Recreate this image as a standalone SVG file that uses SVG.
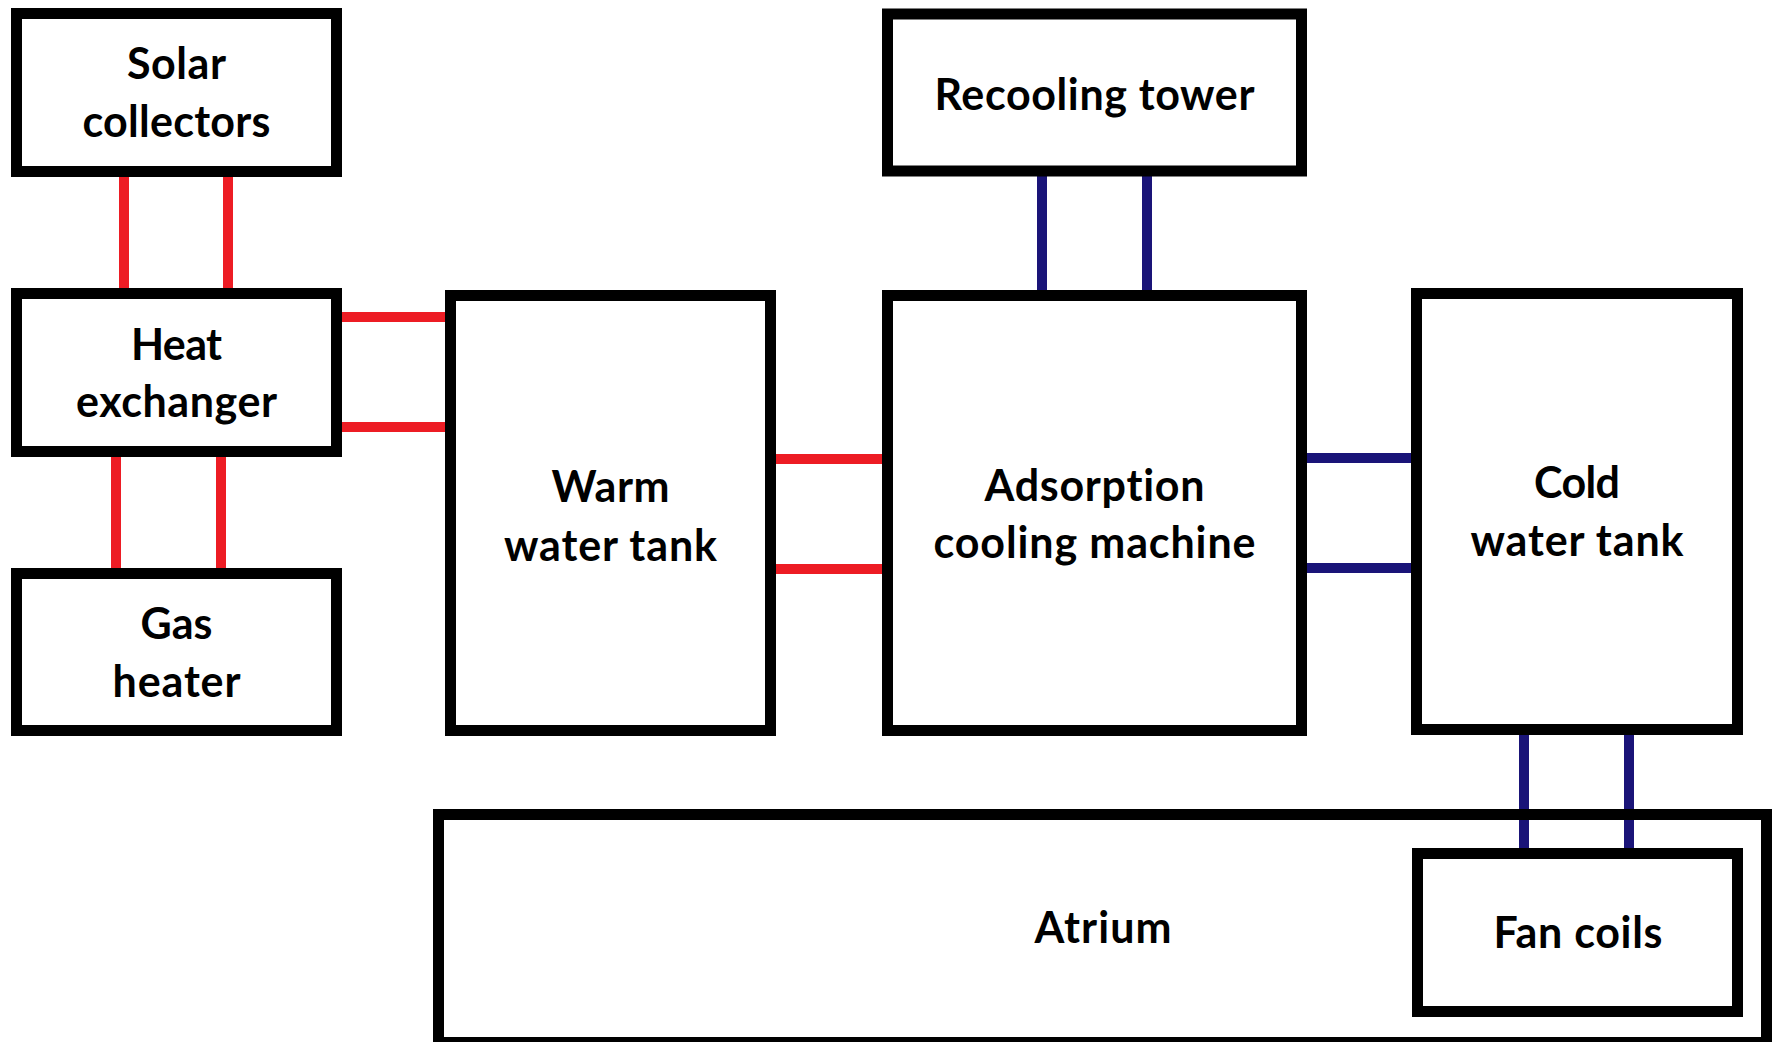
<svg xmlns="http://www.w3.org/2000/svg" width="1776" height="1042" viewBox="0 0 1776 1042">
<style>
.box{fill:#fff;stroke:#000;stroke-width:11}
.open{fill:none;stroke:#000;stroke-width:11}
.hot{stroke:#ed1c24;stroke-width:10;fill:none}
.cold{stroke:#1a1478;stroke-width:10;fill:none}
text{font-family:Lato,"Open Sans","Liberation Sans",sans-serif;font-weight:bold;font-size:43px;fill:#000;text-anchor:middle;font-variant-ligatures:none;font-feature-settings:"liga" 0,"clig" 0}
</style>
<rect x="0" y="0" width="1776" height="1042" fill="#fff"/>
<g id="connectors">
<line class="hot" x1="124" y1="170" x2="124" y2="294"/>
<line class="hot" x1="228" y1="170" x2="228" y2="294"/>
<line class="hot" x1="116" y1="450" x2="116" y2="574"/>
<line class="hot" x1="221" y1="450" x2="221" y2="574"/>
<line class="hot" x1="336" y1="317" x2="451" y2="317"/>
<line class="hot" x1="336" y1="427" x2="451" y2="427"/>
<line class="hot" x1="770" y1="459" x2="888" y2="459"/>
<line class="hot" x1="770" y1="569" x2="888" y2="569"/>
<line class="cold" x1="1042" y1="170" x2="1042" y2="296"/>
<line class="cold" x1="1147" y1="170" x2="1147" y2="296"/>
<line class="cold" x1="1301" y1="458" x2="1417" y2="458"/>
<line class="cold" x1="1301" y1="568" x2="1417" y2="568"/>
<line class="cold" x1="1524" y1="730" x2="1524" y2="854"/>
<line class="cold" x1="1629" y1="730" x2="1629" y2="854"/>
</g>
<g id="solar-collectors">
<rect class="box" x="16.5" y="13.5" width="320" height="158"/>
<text x="176.5" y="79" textLength="99">Solar</text>
<text x="176.5" y="137" textLength="188">collectors</text>
</g>
<g id="heat-exchanger">
<rect class="box" x="16.5" y="293.5" width="320" height="158"/>
<text x="176.5" y="360" textLength="91">Heat</text>
<text x="176.5" y="417" textLength="201">exchanger</text>
</g>
<g id="gas-heater">
<rect class="box" x="16.5" y="573.5" width="320" height="157"/>
<text x="176.5" y="639" textLength="72">Gas</text>
<text x="176.5" y="697" textLength="128">heater</text>
</g>
<g id="warm-water-tank">
<rect class="box" x="450.5" y="295.5" width="320" height="435"/>
<text x="610.5" y="502" textLength="118">Warm</text>
<text x="610.5" y="561" textLength="213">water tank</text>
</g>
<g id="recooling-tower">
<rect class="box" x="887.5" y="14" width="414" height="157"/>
<text x="1094.5" y="110" textLength="320">Recooling tower</text>
</g>
<g id="adsorption-cooling-machine">
<rect class="box" x="887.5" y="295.5" width="414" height="435"/>
<text x="1094.5" y="501" textLength="220">Adsorption</text>
<text x="1094.5" y="558" textLength="322">cooling machine</text>
</g>
<g id="cold-water-tank">
<rect class="box" x="1416.5" y="293.5" width="321" height="436"/>
<text x="1577" y="498" textLength="86">Cold</text>
<text x="1577" y="556" textLength="213">water tank</text>
</g>
<g id="atrium">
<rect class="open" x="438.5" y="814.5" width="1328" height="228"/>
<text x="1103" y="943" textLength="137">Atrium</text>
</g>
<g id="fan-coils">
<rect class="box" x="1417.5" y="853.5" width="320" height="158"/>
<text x="1578" y="948" textLength="169">Fan coils</text>
</g>
</svg>
